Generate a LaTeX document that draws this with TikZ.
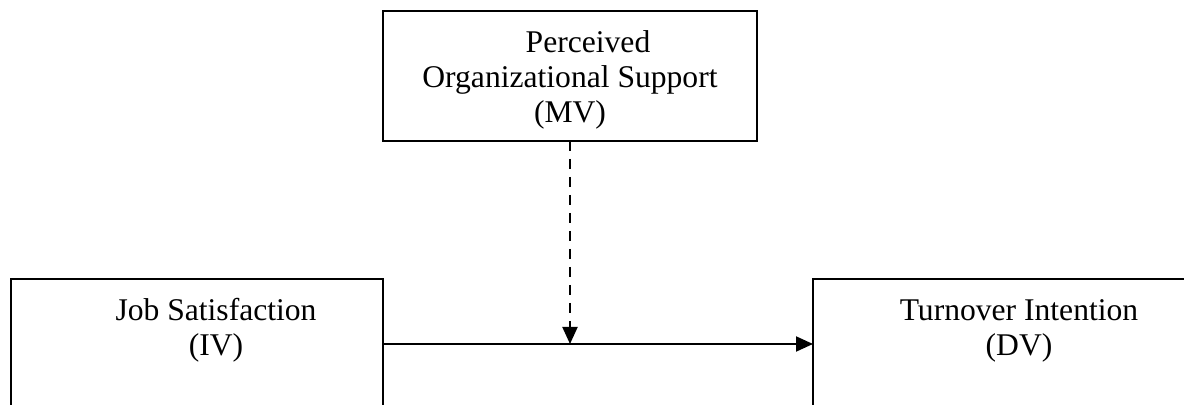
\documentclass[tikz,border=0pt]{standalone}
\usepackage{fontspec}
\setmainfont{Liberation Serif}
\usetikzlibrary{positioning, arrows.meta}

\tikzset{
  var/.style={draw, line width=1pt, minimum width=186pt, minimum height=65pt, inner sep=0pt, outer sep=0pt},
  lbl/.style={align=center, inner sep=0pt, font=\fontsize{15.8}{17.5}\selectfont},
  link/.style={line width=1pt, -{Triangle[length=8.5pt, width=7.5pt]}}
}

\begin{document}
\begin{tikzpicture}[x=0.5pt, y=-0.5pt]
    \useasboundingbox (0,0) rectangle (1184,405);
    \clip (0,0) rectangle (1184,405);
    \node[var, minimum width=187pt, anchor=north west] (pos) at (383,11) {};
    \node[var, anchor=north west] (js) at (11,279) {};
    \node[var, anchor=north west] (ti) at (813,279) {};
    \node[lbl, below=8.25pt of pos.north] (posl) {\hspace*{18pt}\strut Perceived\\Organizational Support\\(MV)};
    \node[lbl, below=8.25pt of js.north, xshift=9.5pt] (jsl) {\strut Job Satisfaction\\(IV)};
    \node[lbl, below=8.25pt of ti.north, xshift=10pt] (til) {\strut Turnover Intention\\(DV)};
    \coordinate (m) at (pos.south |- js.east);
    \draw[link] (js.east) -- (ti.west);
    \draw[link, dash pattern=on 5pt off 4pt] (pos.south) -- (m);
\end{tikzpicture}
\end{document}
